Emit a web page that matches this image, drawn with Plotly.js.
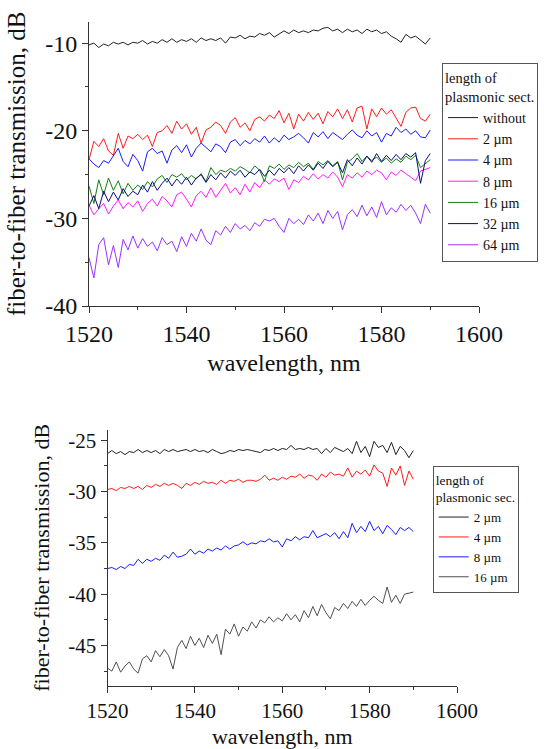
<!DOCTYPE html>
<html>
<head>
<meta charset="utf-8">
<script src="https://cdn.plot.ly/plotly-3.0.1.min.js"></script>
<style>html,body{margin:0;padding:0;background:#fff;}#chart{width:545px;height:749px;}</style>
</head>
<body>
<div id="chart"></div>
<script>
// wavelength grid, nm
const wavelength = [1520,1521,1522,1523,1524,1525,1526,1527,1528,1529,1530,1531,1532,1533,1534,1535,1536,1537,1538,1539,1540,1541,1542,1543,1544,1545,1546,1547,1548,1549,1550,1551,1552,1553,1554,1555,1556,1557,1558,1559,1560,1561,1562,1563,1564,1565,1566,1567,1568,1569,1570,1571,1572,1573,1574,1575,1576,1577,1578,1579,1580,1581,1582,1583,1584,1585,1586,1587,1588,1589,1590];

// ---- top panel series (dB) ----
const topNames = ["without","2 \u00b5m","4 \u00b5m","8 \u00b5m","16 \u00b5m","32 \u00b5m","64 \u00b5m"];
const topWithout = [-10.2,-10.0,-10.5,-10.1,-10.3,-9.9,-10.1,-9.9,-10.2,-9.9,-10.0,-9.7,-10.1,-9.8,-10.0,-9.6,-9.9,-9.5,-9.9,-9.6,-9.8,-9.5,-9.9,-9.4,-9.7,-9.5,-9.7,-9.4,-10.0,-9.3,-9.4,-9.1,-9.5,-9.2,-9.3,-8.9,-9.1,-8.8,-9.3,-8.9,-8.6,-8.9,-8.5,-8.8,-8.6,-8.8,-8.5,-8.6,-8.3,-8.2,-8.6,-8.4,-8.8,-8.4,-8.7,-8.5,-8.9,-8.4,-8.7,-8.5,-8.9,-8.7,-9.2,-9.5,-9.9,-9.0,-9.4,-9.2,-9.6,-10.1,-9.4];
const top2um = [-23.3,-21.2,-21.8,-20.9,-22.3,-22.8,-20.3,-22.0,-20.6,-20.9,-20.4,-21.0,-20.5,-21.8,-20.2,-20.0,-19.4,-20.3,-18.9,-19.8,-19.2,-20.4,-19.6,-21.4,-19.9,-19.6,-19.0,-19.4,-20.3,-19.0,-18.5,-19.6,-19.1,-20.0,-18.7,-18.4,-18.9,-18.2,-18.6,-17.7,-19.1,-18.0,-19.8,-18.1,-18.9,-17.9,-18.7,-18.0,-19.2,-17.8,-18.4,-17.5,-18.6,-17.6,-19.0,-17.4,-17.2,-19.8,-17.5,-18.4,-17.4,-18.1,-17.6,-18.5,-19.5,-17.9,-17.4,-17.3,-18.6,-18.9,-18.1];
const top4um = [-23.2,-23.8,-24.2,-23.4,-23.7,-22.9,-22.0,-23.5,-24.1,-22.7,-23.4,-24.6,-22.4,-22.0,-22.6,-22.3,-23.7,-22.2,-21.7,-22.5,-21.6,-23.0,-22.0,-21.4,-21.9,-22.4,-21.5,-21.8,-22.5,-21.3,-21.0,-21.7,-21.1,-21.5,-20.9,-21.3,-20.6,-21.4,-20.8,-21.3,-20.5,-21.0,-20.7,-20.3,-20.8,-21.4,-20.2,-20.7,-20.1,-20.9,-20.2,-20.6,-21.0,-20.4,-19.9,-20.5,-20.8,-20.0,-20.6,-20.2,-21.3,-20.3,-20.6,-19.6,-20.2,-19.8,-20.4,-20.0,-20.7,-20.8,-19.9];
const top8um = [-28.5,-29.6,-28.9,-28.3,-29.5,-28.6,-27.9,-28.9,-28.2,-28.7,-28.0,-29.2,-28.3,-27.8,-28.6,-27.5,-28.0,-28.7,-27.3,-27.0,-27.8,-28.7,-27.4,-26.9,-27.6,-26.5,-27.6,-26.8,-26.0,-27.1,-26.5,-27.3,-26.1,-27.0,-25.9,-26.5,-25.6,-26.1,-25.5,-25.8,-25.4,-26.7,-25.6,-25.9,-25.2,-25.6,-24.9,-25.5,-25.0,-25.4,-24.7,-25.3,-26.4,-25.0,-25.4,-24.8,-25.3,-24.6,-25.0,-24.5,-24.8,-25.6,-24.7,-25.1,-24.5,-24.9,-25.3,-25.7,-24.6,-24.4,-24.2];
const top16um = [-26.3,-28.3,-25.6,-27.3,-25.4,-26.8,-25.7,-27.2,-26.0,-26.8,-26.2,-26.7,-25.8,-26.4,-25.5,-25.1,-25.9,-25.0,-25.3,-24.9,-25.6,-25.1,-25.5,-24.9,-25.8,-24.2,-25.0,-24.5,-24.7,-24.3,-24.6,-24.1,-24.4,-24.8,-24.0,-24.5,-25.8,-24.0,-24.3,-23.8,-24.4,-23.9,-24.2,-23.6,-24.1,-23.7,-24.4,-23.5,-23.9,-23.4,-24.0,-23.5,-25.6,-23.6,-23.2,-22.6,-23.5,-22.9,-23.4,-23.0,-23.6,-23.1,-23.7,-23.2,-23.6,-22.9,-23.3,-22.8,-24.2,-23.8,-23.3];
const top32um = [-28.6,-27.4,-28.9,-26.9,-28.1,-27.0,-27.9,-26.6,-27.5,-26.9,-27.3,-26.2,-27.0,-25.8,-26.8,-26.0,-25.4,-26.3,-25.5,-26.1,-25.3,-26.2,-25.4,-25.0,-25.9,-25.0,-25.6,-24.8,-25.4,-24.6,-25.1,-24.5,-25.3,-24.7,-25.0,-24.4,-25.2,-24.5,-25.1,-24.3,-24.8,-24.2,-24.9,-24.0,-24.6,-23.9,-24.5,-23.7,-24.3,-23.5,-24.1,-23.6,-24.8,-23.3,-24.0,-23.1,-23.8,-22.9,-23.6,-22.6,-23.5,-22.8,-23.4,-22.7,-23.3,-22.6,-23.0,-22.5,-26.0,-23.4,-22.6];
const top64um = [-34.5,-36.8,-33.0,-32.2,-35.3,-33.1,-35.6,-32.4,-33.6,-32.0,-33.4,-32.3,-33.2,-32.7,-33.7,-32.2,-33.0,-32.6,-33.8,-32.1,-33.2,-31.7,-32.6,-31.2,-32.5,-33.0,-31.4,-31.9,-30.9,-31.6,-30.6,-31.2,-30.8,-31.4,-30.5,-30.9,-30.1,-30.3,-30.0,-30.9,-31.6,-30.0,-30.6,-30.1,-30.7,-29.6,-30.3,-29.4,-30.6,-29.1,-30.0,-29.2,-31.3,-29.6,-29.0,-29.8,-28.5,-29.7,-28.7,-29.9,-28.1,-29.6,-28.8,-29.3,-28.4,-29.1,-28.5,-29.4,-30.6,-28.4,-29.4];
const topColors = ["#222222","#ff1a1a","#1a1aff","#ff1aff","#108010","#0a0a80","#9a30ff"];

// ---- bottom panel series (dB) ----
const botNames = ["2 \u00b5m","4 \u00b5m","8 \u00b5m","16 \u00b5m"];
const bot2um = [-26.3,-26.0,-26.3,-26.1,-26.4,-26.1,-26.2,-25.9,-26.2,-26.0,-26.2,-26.0,-26.3,-25.9,-26.1,-25.9,-26.1,-26.0,-25.9,-26.1,-25.9,-26.1,-26.0,-26.2,-25.9,-26.1,-26.3,-26.2,-26.0,-26.1,-25.9,-26.0,-25.9,-26.0,-26.1,-26.2,-25.9,-26.0,-25.8,-26.0,-25.8,-25.9,-25.5,-25.9,-25.8,-25.9,-25.7,-25.9,-25.8,-26.3,-25.8,-26.2,-25.7,-25.9,-26.1,-25.8,-26.3,-25.1,-26.2,-25.6,-26.6,-25.1,-25.7,-25.5,-26.2,-25.2,-26.4,-25.6,-26.0,-26.7,-26.0];
const bot4um = [-29.8,-29.7,-29.9,-29.6,-29.7,-29.5,-29.7,-29.5,-29.8,-29.4,-29.6,-29.3,-29.5,-29.2,-29.4,-29.2,-29.4,-29.7,-29.2,-29.4,-29.1,-29.3,-29.0,-29.2,-29.1,-29.3,-28.9,-29.2,-28.9,-29.0,-28.8,-29.1,-28.9,-28.9,-29.0,-28.8,-28.4,-28.9,-28.7,-28.9,-28.6,-28.8,-28.5,-28.6,-28.3,-28.7,-28.4,-28.5,-28.9,-28.3,-28.6,-28.1,-28.4,-28.3,-28.5,-27.7,-28.6,-28.0,-28.3,-27.9,-28.5,-27.4,-28.0,-28.2,-29.5,-27.7,-28.4,-27.5,-29.4,-28.0,-28.8];
const bot8um = [-37.5,-37.4,-37.6,-37.3,-37.5,-37.1,-37.2,-36.6,-37.0,-36.6,-36.8,-36.5,-36.7,-36.2,-36.5,-35.9,-36.4,-36.3,-36.1,-35.6,-36.1,-35.8,-36.0,-35.6,-35.8,-35.5,-35.7,-35.3,-35.6,-35.3,-35.2,-34.9,-35.2,-35.0,-35.1,-34.8,-34.9,-34.6,-34.9,-34.8,-35.4,-34.6,-34.8,-34.4,-34.7,-34.4,-34.5,-33.8,-34.5,-34.3,-34.1,-34.4,-34.0,-34.6,-33.9,-34.5,-33.1,-34.0,-33.4,-33.9,-32.9,-33.8,-33.4,-34.1,-33.3,-33.7,-34.2,-33.5,-33.8,-33.5,-33.9];
const bot16um = [-47.2,-47.5,-46.6,-47.6,-47.0,-46.6,-47.3,-47.7,-46.3,-46.0,-46.6,-45.5,-46.1,-45.4,-46.0,-47.3,-45.2,-44.5,-45.3,-44.1,-45.0,-44.3,-45.2,-44.0,-44.8,-43.9,-45.9,-43.4,-43.9,-42.9,-44.1,-43.2,-43.6,-42.7,-43.3,-42.5,-42.8,-42.2,-42.7,-42.3,-42.6,-41.9,-42.5,-42.0,-42.7,-41.6,-42.3,-41.2,-42.1,-41.0,-41.8,-42.4,-41.3,-41.6,-40.9,-41.4,-40.7,-41.2,-40.5,-41.1,-40.6,-40.2,-40.6,-40.9,-39.3,-40.8,-40.1,-40.9,-40.0,-39.9,-39.8];
const botColors = ["#222222","#ff1a1a","#1a1aff","#505050"];

// ---- tick labels ----
const xTickVals = [1520,1540,1560,1580,1600];
const xTickText = ["1520","1540","1560","1580","1600"];
const xMinorVals = [1530,1550,1570,1590];
const topYTickVals = [-40,-30,-20,-10];
const topYTickText = ["-40","-30","-20","-10"];
const topYMinorVals = [-35,-25,-15];
const botYTickVals = [-45,-40,-35,-30,-25];
const botYTickText = ["-45","-40","-35","-30","-25"];
const botYMinorVals = [-47.5,-42.5,-37.5,-32.5,-27.5];

const topSeries = [topWithout, top2um, top4um, top8um, top16um, top32um, top64um];
const botSeries = [bot2um, bot4um, bot8um, bot16um];

const traces = [];
topSeries.forEach((ys, i) => traces.push({
  type: "scatter", mode: "lines", x: wavelength, y: ys, name: topNames[i],
  line: {color: topColors[i], width: 1}, xaxis: "x", yaxis: "y", legend: "legend"
}));
botSeries.forEach((ys, i) => traces.push({
  type: "scatter", mode: "lines", x: wavelength, y: ys, name: botNames[i],
  line: {color: botColors[i], width: 1}, xaxis: "x2", yaxis: "y2", legend: "legend2"
}));

const FONT = "Liberation Serif, Times New Roman, serif";
const W = 545, H = 749;
function axBase(extra) {
  return Object.assign({
    showline: true, linecolor: "#333", linewidth: 1, showgrid: false, zeroline: false,
    ticks: "outside", ticklen: 6, tickcolor: "#333", tickwidth: 1, mirror: false,
    tickmode: "array", automargin: false
  }, extra);
}

const layout = {
  width: W, height: H,
  margin: {l: 0, r: 0, t: 0, b: 0},
  paper_bgcolor: "#fff", plot_bgcolor: "#fff",
  font: {family: FONT, color: "#111"},
  showlegend: true,
  xaxis: axBase({
    domain: [89/W, 479/W], range: [1520, 1600], anchor: "y",
    tickvals: xTickVals, ticktext: xTickText, tickfont: {size: 24, family: FONT},
    minor: {tickmode: "array", tickvals: xMinorVals, ticks: "outside", ticklen: 3, tickcolor: "#333"},
    title: {text: "wavelength, nm", font: {size: 24, family: FONT}, standoff: 8}
  }),
  yaxis: axBase({
    domain: [(H-306)/H, (H-21.7)/H], range: [-40, -7.55], anchor: "x",
    tickvals: topYTickVals, ticktext: topYTickText, tickfont: {size: 24, family: FONT},
    minor: {tickmode: "array", tickvals: topYMinorVals, ticks: "outside", ticklen: 3, tickcolor: "#333"},
    title: {text: "fiber-to-fiber transmission, dB", font: {size: 25, family: FONT}, standoff: 12}
  }),
  xaxis2: axBase({
    domain: [107.5/W, 457/W], range: [1520, 1600], anchor: "y2",
    tickvals: xTickVals, ticktext: xTickText, tickfont: {size: 21, family: FONT},
    minor: {tickmode: "array", tickvals: xMinorVals, ticks: "outside", ticklen: 3, tickcolor: "#333"},
    title: {text: "wavelength, nm", font: {size: 22, family: FONT}, standoff: 6}
  }),
  yaxis2: axBase({
    domain: [(H-685.7)/H, (H-430)/H], range: [-48.92, -24.0], anchor: "x2",
    tickvals: botYTickVals, ticktext: botYTickText, tickfont: {size: 21, family: FONT},
    minor: {tickmode: "array", tickvals: botYMinorVals, ticks: "outside", ticklen: 3, tickcolor: "#333"},
    title: {text: "fiber-to-fiber transmission, dB", font: {size: 22, family: FONT}, standoff: 12}
  }),
  legend: {
    x: 442/W, y: (H-63.3)/H, xanchor: "left", yanchor: "top",
    bgcolor: "#fff", bordercolor: "#555", borderwidth: 1,
    font: {size: 14, family: FONT, color: "#111"},
    title: {text: "length of<br>plasmonic sect.", font: {size: 14.5, family: FONT, color: "#111"}, side: "top"},
    tracegroupgap: 0, itemwidth: 30
  },
  legend2: {
    x: 432.7/W, y: (H-466)/H, xanchor: "left", yanchor: "top",
    bgcolor: "#fff", bordercolor: "#555", borderwidth: 1,
    font: {size: 13, family: FONT, color: "#111"},
    title: {text: "length of<br>plasmonic sec.", font: {size: 13.5, family: FONT, color: "#111"}, side: "top"},
    tracegroupgap: 0, itemwidth: 30
  }
};

Plotly.newPlot("chart", traces, layout, {displayModeBar: false, staticPlot: true});
</script>
</body>
</html>
